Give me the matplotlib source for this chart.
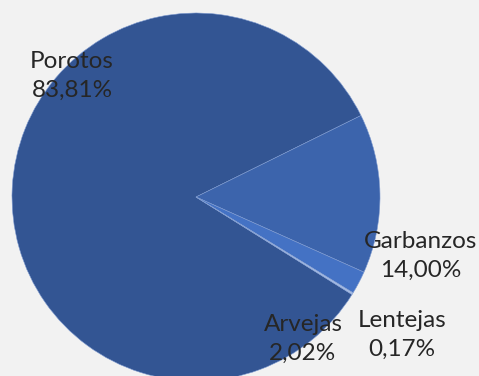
import matplotlib
matplotlib.use('Agg')
import matplotlib.pyplot as plt

# data
names = ['Porotos', 'Garbanzos', 'Arvejas', 'Lentejas']
shares = [83.81, 14.00, 2.02, 0.17]
share_labels = ['83,81%', '14,00%', '2,02%', '0,17%']
colors = ['#335593', '#3C64AC', '#4472C4', '#A9BEE4']

# where the labels sit (pixel coords, origin top left)
label_pos = [(72, 76), (421, 256), (303, 339), (402, 335)]

W, H = 479, 376
bg = '#F2F2F2'

fig = plt.figure(figsize=(W / 100, H / 100), dpi=100, facecolor=bg)
ax = fig.add_axes([0, 0, 1, 1])
ax.set_facecolor(bg)

ax.pie(shares, colors=colors, startangle=-32, counterclock=False,
       center=(196, H - 197), radius=184,
       wedgeprops=dict(edgecolor='#7F9BD0', linewidth=0.4))

for name, lab, (x, y) in zip(names, share_labels, label_pos):
    ax.text(x, H - y, name + '\n' + lab, ha='center', va='center',
            fontsize=17.5, family='Lato', color='#262626', linespacing=1.45)

ax.set_xlim(0, W)
ax.set_ylim(0, H)
ax.set_aspect('equal')
ax.axis('off')

plt.savefig('out.png', dpi=100, facecolor=bg)
